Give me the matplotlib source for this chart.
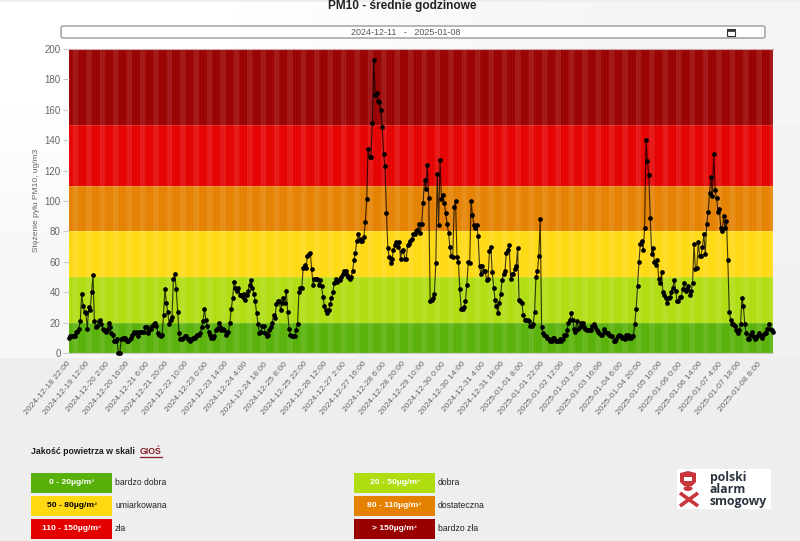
import numpy as np
import matplotlib
matplotlib.use('Agg')
import matplotlib.pyplot as plt
from matplotlib.patches import Rectangle, FancyBboxPatch, Polygon, Ellipse

plt.rcParams['font.family'] = ['Liberation Sans', 'DejaVu Sans']

# hourly PM10 values
pm10_a = [10, 11, 11, 11, 11, 14, 14, 16, 21, 39, 31, 27, 26, 16, 30, 28, 40, 51, 21, 17,
          18, 21, 22, 19, 16, 15, 14, 15, 20, 17, 13, 12, 8, 8, 9, 0, 0, 9, 10, 9,
          10, 8, 8, 9, 10, 12, 14, 13, 14, 11, 14, 14, 14, 14, 17, 17, 13, 15, 16, 18,
          19, 20, 18, 13, 12, 11, 12, 25, 42, 33, 27, 19, 22, 24, 49, 52, 42, 27, 13, 9,
          9, 10, 11, 11, 9, 9, 8, 9, 10, 10, 11, 12, 12, 13, 17, 21, 29, 22, 18, 14,
          12, 10, 10, 11, 15, 16, 20, 17, 15, 16, 15, 12, 13, 14, 20, 29, 36, 47, 43, 41,
          43, 38, 38, 37, 39, 35, 38, 41, 45, 48, 43, 39, 34, 26, 19, 13, 14, 18, 18, 13,
          11, 12, 15, 17, 20, 25, 23, 32, 34, 34, 28, 33, 36, 33, 41, 27, 16, 12, 11, 11,
          11, 15, 19, 40, 43, 43, 56, 58, 56, 64, 65, 66, 55, 45, 49, 49, 49, 45, 48, 44,
          37, 31, 28, 26, 28, 32, 36, 40, 46, 49, 47, 48, 48, 50, 52, 54, 54, 51, 50, 49,
          50, 54, 61, 66, 74, 78, 75, 74, 74, 76, 86, 101, 134, 129, 129, 151, 193, 170, 171, 166,
          165, 160, 149, 131, 123, 92, 69, 63, 59, 62, 68, 71, 73, 70, 73, 62, 67, 68, 62, 62,
          71, 72, 74, 75, 78, 78, 80, 81, 85, 79, 85, 99, 114, 108, 124, 102]
pm10_b = [34, 35, 36, 39, 59, 118, 84, 127, 101, 104, 99, 92, 85, 79, 70, 64, 63, 96, 100, 63,
          60, 42, 29, 29, 30, 34, 45, 60, 59, 100, 91, 84, 82, 84, 77, 57, 52, 57, 54, 54,
          48, 49, 67, 70, 53, 43, 35, 31, 26, 33, 39, 48, 52, 54, 66, 68, 71, 49, 52, 52,
          55, 57, 69, 35, 34, 33, 25, 22, 22, 22, 21, 18, 18, 19, 27, 50, 54, 64, 88]
pm10_c = [17, 13, 12, 11, 10, 9, 8, 8, 10, 10, 8, 8, 8, 9, 8, 9, 12, 12, 15, 20,
          22, 26, 22, 16, 14, 21, 16, 17, 20, 20, 17, 16, 15, 15, 15, 15, 18, 19, 17, 15,
          14, 13, 12, 12, 16, 14, 13, 13, 12, 11, 11, 8, 8, 9, 11, 12, 11, 10, 10, 9,
          12, 12, 10, 10, 11, 11, 19, 29, 44, 60, 72, 74, 68, 82, 140, 126, 117, 89, 65, 69,
          60, 58, 61, 49, 46, 53, 40, 38, 36, 33, 36, 37, 40, 43, 48, 41, 34, 34, 37, 37,
          42, 46, 41, 42, 44, 38, 41, 46, 72, 55, 56, 73, 64, 64, 70, 78, 65, 85, 93, 105,
          116, 103, 131, 107, 102, 93, 95, 82, 80, 90, 82, 87, 61, 27, 22, 19, 19, 18, 15, 13,
          15, 19, 36, 31, 19, 13, 9, 9, 12, 14, 11, 9, 10, 11, 13, 12, 10, 12, 13, 13,
          16, 19, 16, 15, 14]
pm10 = pm10_a + pm10_b + pm10_c

tick_labels = ['2024-12-18 22:00', '2024-12-19 12:00', '2024-12-20 2:00', '2024-12-20 16:00',
               '2024-12-21 6:00', '2024-12-21 20:00', '2024-12-22 10:00', '2024-12-23 0:00',
               '2024-12-23 14:00', '2024-12-24 4:00', '2024-12-24 18:00', '2024-12-25 8:00',
               '2024-12-25 22:00', '2024-12-26 12:00', '2024-12-27 2:00', '2024-12-27 16:00',
               '2024-12-28 6:00', '2024-12-28 20:00', '2024-12-29 10:00', '2024-12-30 0:00',
               '2024-12-30 14:00', '2024-12-31 4:00', '2024-12-31 18:00', '2025-01-01 8:00',
               '2025-01-01 22:00', '2025-01-02 12:00', '2025-01-03 2:00', '2025-01-03 16:00',
               '2025-01-04 6:00', '2025-01-04 20:00', '2025-01-05 10:00', '2025-01-06 0:00',
               '2025-01-06 14:00', '2025-01-07 4:00', '2025-01-07 18:00', '2025-01-08 8:00']

band_edges = [0, 20, 50, 80, 110, 150, 200]
band_colors = ['#57b108', '#b0dd10', '#ffd911', '#e58100', '#e50000', '#990000']
legend_text = ['0 - 20µg/m³', '20 - 50µg/m³', '50 - 80µg/m³', '80 - 110µg/m³', '110 - 150µg/m³', '> 150µg/m³']
legend_names = ['bardzo dobra', 'dobra', 'umiarkowana', 'dostateczna', 'zła', 'bardzo zła']
legend_ink = ['white', 'white', 'black', 'white', 'white', 'white']

W, H = 800, 541
fig = plt.figure(figsize=(W / 100, H / 100), dpi=100, facecolor='#eeeeee')

# page background, overlay in pixel coordinates
page = fig.add_axes([0, 0, 1, 1], zorder=0)
page.set_xlim(0, W)
page.set_ylim(H, 0)
page.axis('off')
shade = np.array([[1.0, 0.96], [0.965, 0.945]])
page.imshow(shade, extent=(0, W, 358, 2), cmap='gray', vmin=0, vmax=1, aspect='auto', interpolation='bilinear')
page.set_xlim(0, W)
page.set_ylim(H, 0)

ax = fig.add_axes([69 / W, 1 - 353 / H, 704 / W, 304 / H], zorder=1)
n = len(pm10)
hours = np.arange(n)
ax.set_xlim(0, n - 1)
ax.set_ylim(0, 200)
for i in range(6):
    ax.axhspan(band_edges[i], band_edges[i + 1], color=band_colors[i], lw=0, zorder=1)
# soft vertical stripes over the bands
for i in range(0, n, 2):
    ax.axvspan(i, i + 1, color='white', alpha=0.04, lw=0, zorder=2, snap=False)
for c in np.arange(4.7, n, 9.5):
    ax.axvspan(c - 2, c + 2, color='white', alpha=0.09, lw=0, zorder=2, snap=False)
for e in band_edges[1:-1]:
    ax.axhline(e, color='white', alpha=0.15, lw=0.8, zorder=2)
ax.plot(hours, pm10, color='black', lw=0.8, alpha=0.75, zorder=3, clip_on=False)
ax.plot(hours, pm10, ls='none', marker='o', ms=3.4, mew=0, color='black', zorder=4, clip_on=False)

for s in ax.spines.values():
    s.set_visible(False)
ax.spines['bottom'].set_visible(True)
ax.spines['bottom'].set_color('#cccccc')
ax.spines['top'].set_visible(True)
ax.spines['top'].set_color('#ccaaaa')
ax.set_yticks(range(0, 201, 20))
ax.tick_params(axis='y', length=4, color='#cccccc', labelcolor='#666666', labelsize=7, pad=2, width=0.8)
ax.set_xticks(np.arange(len(tick_labels)) * 14)
ax.set_xticklabels(tick_labels, rotation=50, ha='right', va='center', rotation_mode='anchor',
                   fontsize=6.1, color='#666666')
ax.tick_params(axis='x', length=0, pad=7)
ax.set_ylabel('Stężenie pyłu PM10, ug/m3', fontsize=6, color='#666666')
ax.yaxis.set_label_coords(-0.041, 0.503)

# overlay for title, date box and legend
top = fig.add_axes([0, 0, 1, 1], zorder=2)
top.set_xlim(0, W)
top.set_ylim(H, 0)
top.axis('off')
top.patch.set_alpha(0)

top.text(402, 6, 'PM10 - średnie godzinowe', ha='center', va='center', fontsize=8.6, fontweight='bold', color='#222222')
top.add_patch(FancyBboxPatch((61, 26), 704, 12, boxstyle='round,pad=0,rounding_size=2', fc='white', ec='#999999', lw=1))
top.text(406, 32.3, '2024-12-11   -   2025-01-08', ha='center', va='center', fontsize=6.5, color='#555555')
top.add_patch(Rectangle((727, 29), 8, 7, fc='white', ec='#333333', lw=0.8))
top.add_patch(Rectangle((727, 29), 8, 2, fc='#333333', ec='#333333', lw=0.5))

top.text(31, 452, 'Jakość powietrza w skali', ha='left', va='center', fontsize=6.3, fontweight='bold', color='#1c1c1c')
top.text(140, 452, 'GIOŚ', ha='left', va='center', fontsize=6.3, fontweight='bold', color='#8c1c2c')
top.plot([140, 162], [456.7, 456.7], color='#8c1c2c', lw=0.9)

col_x = [31, 354]
row_y = [473, 496, 519]
for i in range(6):
    x = col_x[i % 2]
    y = row_y[i // 2]
    top.add_patch(Rectangle((x, y), 81, 20, fc=band_colors[i], ec='none'))
    top.text(x + 40.5, y + 9.7, legend_text[i], ha='center', va='center', fontsize=6.1, fontweight='bold', color=legend_ink[i])
    top.text(x + 84, y + 9.7, legend_names[i], ha='left', va='center', fontsize=6.2, color='#222222')

# logo
top.add_patch(Rectangle((677, 469), 94, 40, fc='white', ec='none'))
top.add_patch(Polygon([(680, 473), (688, 471), (696, 473), (696, 482), (692, 486), (684, 486), (680, 482)], fc='#c8353a', ec='none'))
top.add_patch(Rectangle((684, 477), 8, 4, fc='white', ec='none'))
top.add_patch(Ellipse((688, 488.5), 9, 5, fc='#c8353a', ec='none'))
top.plot([680, 698], [493, 506], color='#c8353a', lw=2.6, solid_capstyle='butt')
top.plot([698, 680], [493, 506], color='#c8353a', lw=2.6, solid_capstyle='butt')
for t, y in zip(['polski', 'alarm', 'smogowy'], [477, 489.5, 502]):
    top.text(710, y, t, ha='left', va='center', fontsize=8.8, fontweight='bold', color='#2b3440', family=['Open Sans', 'DejaVu Sans'])

fig.savefig('out.png', dpi=100, facecolor=fig.get_facecolor())
